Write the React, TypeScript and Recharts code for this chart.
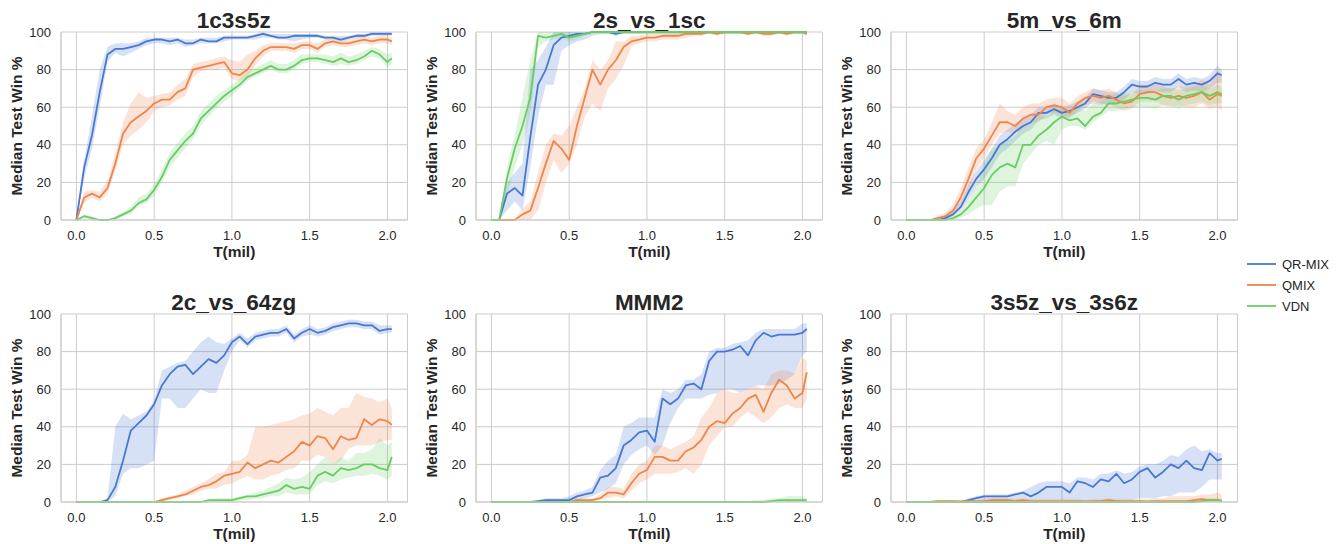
import React from "react";
import { ComposedChart, Line, Area, XAxis, YAxis, CartesianGrid } from "recharts";

const FONT = '"Liberation Sans", Arial, Helvetica, sans-serif';
const INK = "#262626";
const GRID = "#cccccc";
const COLORS = { qr: "#4878d0", qmix: "#ee854a", vdn: "#6acc64" };
const LEGEND = [
  { key: "qr", name: "QR-MIX" },
  { key: "qmix", name: "QMIX" },
  { key: "vdn", name: "VDN" },
];

// training steps (millions)
const T = [0, 0.05, 0.1, 0.15, 0.2, 0.25, 0.3, 0.35, 0.4, 0.45, 0.5, 0.55, 0.6, 0.65, 0.7, 0.75, 0.8, 0.85, 0.9, 0.95, 1, 1.05, 1.1, 1.15, 1.2, 1.25, 1.3, 1.35, 1.4, 1.45, 1.5, 1.55, 1.6, 1.65, 1.7, 1.75, 1.8, 1.85, 1.9, 1.95, 2, 2.028];
const X_TICKS = [0, 0.5, 1, 1.5, 2];
const Y_TICKS = [0, 20, 40, 60, 80, 100];

// 1c3s5z
const A_QR = [0, 28, 45, 68, 88, 91, 91, 92, 93, 95, 96, 96, 95, 96, 94, 94, 96, 95, 95, 97, 97, 97, 97, 98, 99, 98, 97, 97, 98, 98, 98, 98, 97, 97, 96, 97, 98, 98, 99, 99, 99, 99];
const A_QR_LO = [0, 22, 38, 60, 84, 89, 87, 89, 91, 93, 94, 94, 93, 94, 92, 93, 94, 94, 94, 95, 96, 96, 96, 96, 97, 97, 96, 96, 95, 96, 97, 97, 96, 96, 95, 96, 97, 97, 98, 98, 98, 98];
const A_QR_HI = [0, 32, 55, 80, 92, 94, 94, 94, 95, 97, 97, 97, 97, 97, 96, 96, 97, 97, 97, 98, 98, 98, 98, 99, 100, 99, 99, 99, 99, 99, 99, 99, 98, 98, 98, 98, 99, 99, 100, 100, 100, 100];
const A_QM = [0, 12, 14, 12, 17, 30, 46, 52, 55, 58, 62, 64, 64, 68, 70, 80, 81, 82, 83, 84, 78, 77, 80, 86, 90, 92, 92, 92, 91, 93, 93, 91, 94, 95, 94, 94, 95, 96, 95, 96, 96, 95];
const A_QM_LO = [0, 9, 12, 10, 14, 26, 40, 45, 48, 52, 58, 60, 61, 64, 66, 76, 79, 80, 80, 81, 75, 74, 76, 82, 87, 90, 90, 90, 89, 91, 91, 89, 92, 93, 92, 92, 93, 94, 93, 94, 94, 93];
const A_QM_HI = [0, 15, 16, 15, 21, 35, 52, 62, 68, 65, 66, 67, 68, 72, 75, 83, 84, 85, 86, 87, 85, 84, 88, 90, 93, 94, 94, 94, 94, 95, 95, 94, 96, 97, 96, 96, 97, 98, 97, 98, 98, 97];
const A_VD = [0, 2, 1, 0, 0, 1, 3, 5, 9, 11, 16, 23, 32, 37, 42, 46, 54, 58, 62, 66, 69, 72, 76, 78, 80, 82, 80, 80, 82, 85, 86, 86, 85, 84, 86, 84, 85, 87, 90, 88, 84, 86];
const A_VD_LO = [0, 1, 0, 0, 0, 0, 2, 3, 7, 9, 13, 20, 28, 33, 38, 43, 50, 55, 59, 63, 66, 70, 74, 76, 78, 80, 78, 78, 80, 83, 84, 84, 83, 82, 83, 82, 83, 85, 87, 86, 81, 83];
const A_VD_HI = [0, 3, 2, 0, 0, 2, 4, 7, 12, 14, 19, 27, 36, 41, 46, 50, 58, 62, 66, 69, 72, 75, 79, 81, 83, 85, 83, 83, 85, 88, 88, 88, 88, 87, 89, 87, 88, 90, 92, 91, 88, 89];

// 2s_vs_1sc
const B_QR = [0, 0, 14, 17, 13, 44, 72, 80, 93, 97, 98, 99, 99, 100, 100, 100, 99, 100, 100, 100, 100, 100, 100, 100, 100, 100, 100, 100, 100, 100, 100, 100, 100, 100, 100, 100, 100, 100, 100, 100, 100, 100];
const B_QR_LO = [0, 0, 5, 10, 5, 28, 55, 72, 72, 90, 93, 95, 96, 98, 99, 99, 98, 99, 99, 99, 99, 99, 99, 99, 99, 99, 99, 99, 99, 99, 99, 99, 99, 99, 99, 99, 99, 99, 99, 99, 99, 99];
const B_QR_HI = [0, 0, 20, 25, 30, 80, 85, 92, 100, 100, 100, 100, 100, 100, 100, 100, 100, 100, 100, 100, 100, 100, 100, 100, 100, 100, 100, 100, 100, 100, 100, 100, 100, 100, 100, 100, 100, 100, 100, 100, 100, 100];
const B_QM = [0, 0, 0, 0, 3, 5, 17, 30, 42, 38, 32, 50, 65, 80, 72, 80, 85, 92, 95, 96, 97, 97, 98, 98, 98, 99, 99, 99, 100, 99, 100, 100, 100, 99, 100, 99, 99, 100, 99, 100, 100, 99];
const B_QM_LO = [0, 0, 0, 0, 0, 0, 5, 20, 32, 25, 30, 40, 55, 62, 58, 70, 75, 82, 92, 94, 95, 95, 96, 96, 96, 97, 98, 98, 99, 98, 99, 99, 99, 98, 99, 98, 98, 99, 98, 99, 99, 98];
const B_QM_HI = [0, 0, 0, 0, 6, 10, 25, 40, 46, 45, 50, 60, 70, 85, 80, 85, 95, 95, 98, 98, 99, 99, 99, 99, 99, 100, 100, 100, 100, 100, 100, 100, 100, 100, 100, 100, 100, 100, 100, 100, 100, 100];
const B_VD = [0, 0, 22, 38, 50, 65, 98, 97, 98, 99, 97, 98, 99, 100, 100, 100, 100, 100, 100, 100, 100, 100, 100, 100, 100, 100, 100, 100, 100, 100, 100, 100, 100, 100, 100, 100, 100, 100, 100, 100, 100, 100];
const B_VD_LO = [0, 0, 12, 28, 40, 55, 92, 95, 96, 97, 95, 96, 98, 99, 99, 99, 99, 99, 99, 99, 99, 99, 99, 99, 99, 99, 99, 99, 99, 99, 99, 99, 99, 99, 99, 99, 99, 99, 99, 99, 99, 99];
const B_VD_HI = [0, 0, 28, 45, 65, 85, 100, 100, 100, 100, 100, 100, 100, 100, 100, 100, 100, 100, 100, 100, 100, 100, 100, 100, 100, 100, 100, 100, 100, 100, 100, 100, 100, 100, 100, 100, 100, 100, 100, 100, 100, 100];

// 5m_vs_6m
const C_QR = [0, 0, 0, 0, 0, 1, 3, 7, 15, 22, 27, 33, 40, 43, 47, 50, 52, 57, 57, 59, 57, 58, 60, 62, 67, 66, 65, 65, 68, 72, 71, 71, 73, 72, 72, 75, 72, 73, 72, 74, 78, 77];
const C_QR_LO = [0, 0, 0, 0, 0, 0, 2, 5, 11, 18, 22, 28, 35, 38, 42, 46, 48, 53, 54, 56, 54, 55, 57, 59, 63, 62, 61, 61, 64, 68, 67, 67, 69, 68, 68, 71, 68, 69, 68, 70, 73, 73];
const C_QR_HI = [0, 0, 0, 0, 0, 2, 5, 10, 19, 26, 32, 38, 45, 48, 51, 54, 56, 60, 60, 62, 60, 61, 63, 65, 70, 69, 68, 68, 71, 75, 74, 74, 76, 75, 75, 78, 75, 76, 75, 77, 82, 80];
const C_QM = [0, 0, 0, 0, 1, 2, 5, 12, 22, 33, 38, 45, 52, 52, 50, 54, 56, 56, 60, 61, 60, 57, 62, 65, 66, 65, 66, 64, 62, 63, 67, 68, 68, 66, 65, 66, 65, 66, 68, 64, 67, 66];
const C_QM_LO = [0, 0, 0, 0, 0, 1, 3, 8, 16, 27, 33, 40, 46, 47, 46, 49, 52, 52, 56, 57, 56, 54, 58, 61, 62, 61, 62, 60, 58, 59, 63, 63, 63, 61, 60, 61, 60, 60, 62, 59, 60, 58];
const C_QM_HI = [0, 0, 0, 0, 2, 4, 8, 17, 28, 38, 43, 52, 62, 58, 56, 60, 62, 62, 64, 65, 65, 62, 66, 68, 70, 69, 70, 68, 66, 67, 71, 72, 72, 71, 70, 71, 71, 72, 75, 72, 80, 76];
const C_VD = [0, 0, 0, 0, 0, 0, 1, 3, 7, 12, 17, 24, 28, 30, 28, 40, 40, 45, 48, 52, 55, 53, 54, 50, 55, 57, 62, 62, 63, 64, 65, 65, 64, 66, 66, 64, 66, 67, 68, 66, 68, 67];
const C_VD_LO = [0, 0, 0, 0, 0, 0, 0, 1, 3, 6, 8, 8, 15, 18, 18, 30, 35, 40, 42, 40, 48, 50, 50, 48, 52, 55, 58, 58, 59, 60, 60, 60, 59, 61, 61, 59, 61, 62, 63, 61, 62, 62];
const C_VD_HI = [0, 0, 0, 0, 0, 0, 2, 5, 11, 18, 30, 38, 40, 42, 45, 50, 52, 55, 55, 58, 60, 58, 60, 58, 62, 63, 66, 67, 67, 68, 69, 69, 69, 70, 70, 69, 70, 71, 72, 70, 72, 71];

// 2c_vs_64zg
const D_QR = [0, 0, 0, 0, 1, 8, 22, 38, 42, 46, 52, 62, 68, 72, 73, 68, 72, 76, 74, 78, 85, 88, 84, 88, 89, 90, 90, 92, 87, 90, 92, 90, 91, 93, 94, 95, 95, 94, 94, 91, 92, 92];
const D_QR_LO = [0, 0, 0, 0, 0, 3, 15, 18, 18, 20, 22, 55, 55, 50, 50, 55, 60, 58, 58, 70, 80, 86, 82, 86, 87, 88, 88, 90, 85, 88, 89, 88, 89, 91, 92, 93, 93, 92, 92, 89, 90, 90];
const D_QR_HI = [0, 0, 0, 0, 2, 40, 47, 44, 46, 48, 54, 70, 72, 74, 75, 80, 85, 88, 85, 84, 87, 90, 87, 90, 91, 92, 92, 94, 89, 92, 94, 92, 93, 95, 96, 97, 97, 96, 96, 94, 94, 94];
const D_QM = [0, 0, 0, 0, 0, 0, 0, 0, 0, 0, 0, 1, 2, 3, 4, 6, 8, 9, 11, 14, 15, 16, 21, 18, 20, 22, 21, 24, 27, 32, 30, 35, 34, 28, 35, 33, 34, 44, 41, 44, 43, 41];
const D_QM_LO = [0, 0, 0, 0, 0, 0, 0, 0, 0, 0, 0, 0, 1, 2, 3, 4, 6, 7, 7, 9, 10, 12, 14, 12, 12, 14, 15, 17, 18, 22, 22, 25, 24, 20, 22, 28, 30, 30, 30, 32, 33, 33];
const D_QM_HI = [0, 0, 0, 0, 0, 0, 0, 0, 0, 0, 0, 2, 3, 4, 6, 8, 10, 12, 15, 16, 22, 22, 25, 40, 40, 41, 42, 43, 44, 46, 47, 50, 48, 46, 50, 50, 58, 56, 55, 53, 55, 50];
const D_VD = [0, 0, 0, 0, 0, 0, 0, 0, 0, 0, 0, 0, 0, 0, 0, 0, 0, 1, 1, 1, 1, 2, 3, 3, 4, 5, 6, 9, 7, 8, 7, 14, 16, 14, 18, 17, 18, 20, 20, 18, 17, 24];
const D_VD_LO = [0, 0, 0, 0, 0, 0, 0, 0, 0, 0, 0, 0, 0, 0, 0, 0, 0, 0, 0, 0, 0, 1, 1, 2, 2, 3, 3, 5, 4, 4, 4, 9, 11, 10, 12, 13, 14, 14, 15, 14, 12, 14];
const D_VD_HI = [0, 0, 0, 0, 0, 0, 0, 0, 0, 0, 0, 0, 0, 0, 0, 0, 0, 1, 2, 2, 2, 3, 4, 5, 6, 8, 10, 13, 12, 13, 16, 20, 24, 20, 24, 22, 26, 26, 28, 34, 30, 32];

// MMM2
const E_QR = [0, 0, 0, 0, 0, 0, 0.5, 1, 1, 1, 1, 3, 4, 5, 13, 14, 18, 30, 33, 37, 38, 32, 55, 52, 55, 62, 63, 60, 75, 80, 80, 81, 83, 78, 86, 90, 88, 89, 89, 89, 90, 92];
const E_QR_LO = [0, 0, 0, 0, 0, 0, 0, 0, 0, 0, 0, 1, 2, 3, 5, 7, 10, 20, 25, 28, 30, 25, 30, 42, 50, 55, 55, 55, 57, 58, 60, 60, 58, 60, 62, 62, 62, 63, 65, 68, 78, 80];
const E_QR_HI = [0, 0, 0, 0, 0, 0, 1, 2, 2, 2, 3, 5, 6, 8, 17, 22, 25, 40, 42, 45, 45, 45, 60, 58, 60, 65, 65, 68, 80, 82, 82, 84, 85, 86, 90, 92, 92, 92, 92, 92, 95, 95];
const E_QM = [0, 0, 0, 0, 0, 0, 0, 0, 0, 0, 0, 1, 1, 1, 2, 5, 5, 4, 10, 15, 17, 24, 24, 22, 22, 27, 29, 33, 40, 43, 42, 47, 50, 55, 57, 48, 58, 65, 62, 55, 58, 69];
const E_QM_LO = [0, 0, 0, 0, 0, 0, 0, 0, 0, 0, 0, 0, 0, 0, 1, 2, 3, 2, 6, 10, 12, 15, 15, 15, 16, 18, 15, 20, 30, 35, 40, 40, 45, 48, 45, 42, 45, 50, 52, 50, 50, 55];
const E_QM_HI = [0, 0, 0, 0, 0, 0, 0, 0, 0, 0, 0, 2, 2, 2, 4, 8, 8, 7, 15, 20, 22, 30, 30, 28, 30, 32, 35, 45, 50, 58, 60, 58, 58, 60, 62, 60, 68, 70, 70, 68, 77, 75];
const E_VD = [0, 0, 0, 0, 0, 0, 0, 0, 0, 0, 0, 0, 0, 0, 0, 0, 0, 0, 0, 0, 0, 0, 0, 0, 0, 0, 0, 0, 0, 0, 0, 0, 0, 0, 0, 0, 0.5, 1, 1, 1, 1, 1];
const E_VD_LO = [0, 0, 0, 0, 0, 0, 0, 0, 0, 0, 0, 0, 0, 0, 0, 0, 0, 0, 0, 0, 0, 0, 0, 0, 0, 0, 0, 0, 0, 0, 0, 0, 0, 0, 0, 0, 0, 0, 0, 0, 0, 0];
const E_VD_HI = [0, 0, 0, 0, 0, 0, 0, 0, 0, 0, 0, 0, 0, 0, 0, 0, 0, 0, 0, 0, 0, 0, 0, 0, 0, 0, 0, 0, 0, 0, 0, 0, 0, 0.5, 1, 1, 2, 2, 3, 3, 3, 2];

// 3s5z_vs_3s6z
const F_QR = [0, 0, 0, 0, 0, 0, 0, 0, 1, 2, 3, 3, 3, 3, 4, 5, 3, 5, 8, 8, 8, 5, 11, 10, 8, 12, 11, 15, 10, 12, 16, 18, 13, 16, 20, 18, 22, 18, 17, 26, 22, 23];
const F_QR_LO = [0, 0, 0, 0, 0, 0, 0, 0, 0, 1, 1, 1, 1, 1, 1, 1, 1, 1, 1, 1, 1, 1, 1, 0, 1, 0, 0, 0, 1, 1, 2, 2, 2, 3, 3, 5, 5, 5, 8, 12, 12, 12];
const F_QR_HI = [0, 0, 0, 0, 0, 0, 0, 0, 2, 3, 4, 4, 4, 4, 5, 6, 8, 10, 11, 11, 11, 10, 13, 13, 12, 15, 15, 17, 15, 16, 19, 20, 20, 22, 25, 24, 28, 30, 27, 28, 26, 26];
const F_QM = [0, 0, 0, 0, 0.5, 0.5, 0.5, 0.3, 0.5, 0.5, 0.5, 1, 1, 1, 0.5, 1, 0.5, 0.5, 0.5, 0.5, 0.5, 0.5, 0.5, 0.3, 0.5, 0.5, 1, 0.5, 0.5, 0.5, 0.5, 0.3, 0.5, 0.5, 0.5, 0.5, 0.5, 1, 1.5, 1, 1, 0.8];
const F_QM_LO = [0, 0, 0, 0, 0, 0, 0, 0, 0, 0, 0, 0, 0, 0, 0, 0, 0, 0, 0, 0, 0, 0, 0, 0, 0, 0, 0, 0, 0, 0, 0, 0, 0, 0, 0, 0, 0, 0, 0, 0, 0, 0];
const F_QM_HI = [0, 0, 0, 0, 1, 1, 1, 1, 1, 1, 1.5, 2, 2, 2, 1.5, 2, 1.5, 1.5, 1.5, 1.5, 1.5, 1.5, 1.5, 1, 1.5, 1.5, 2, 1.5, 1.5, 1.5, 1.5, 1.5, 2, 2, 3, 3, 3, 3, 4, 4, 5, 4];
const F_VD = [0, 0, 0, 0, 0, 0, 0, 0, 0, 0, 0, 0, 0, 0, 0, 0, 0, 0, 0, 0, 0, 0, 0, 0, 0, 0, 0, 0, 0, 0, 0, 0, 0, 0, 0, 0, 0, 0, 0.5, 1, 1, 0.5];
const F_VD_LO = [0, 0, 0, 0, 0, 0, 0, 0, 0, 0, 0, 0, 0, 0, 0, 0, 0, 0, 0, 0, 0, 0, 0, 0, 0, 0, 0, 0, 0, 0, 0, 0, 0, 0, 0, 0, 0, 0, 0, 0, 0, 0];
const F_VD_HI = [0, 0, 0, 0, 0, 0, 0, 0, 0, 0, 0, 0, 0, 0, 0, 0, 0, 0, 0, 0, 0, 0, 0, 0, 0, 0, 0, 0, 0, 0, 0, 0, 0, 0, 0, 0, 0, 0, 1, 2, 2, 1];

const PANELS = [
  { title: "1c3s5z", qr: [A_QR, A_QR_LO, A_QR_HI], qmix: [A_QM, A_QM_LO, A_QM_HI], vdn: [A_VD, A_VD_LO, A_VD_HI] },
  { title: "2s_vs_1sc", qr: [B_QR, B_QR_LO, B_QR_HI], qmix: [B_QM, B_QM_LO, B_QM_HI], vdn: [B_VD, B_VD_LO, B_VD_HI] },
  { title: "5m_vs_6m", qr: [C_QR, C_QR_LO, C_QR_HI], qmix: [C_QM, C_QM_LO, C_QM_HI], vdn: [C_VD, C_VD_LO, C_VD_HI] },
  { title: "2c_vs_64zg", qr: [D_QR, D_QR_LO, D_QR_HI], qmix: [D_QM, D_QM_LO, D_QM_HI], vdn: [D_VD, D_VD_LO, D_VD_HI] },
  { title: "MMM2", qr: [E_QR, E_QR_LO, E_QR_HI], qmix: [E_QM, E_QM_LO, E_QM_HI], vdn: [E_VD, E_VD_LO, E_VD_HI] },
  { title: "3s5z_vs_3s6z", qr: [F_QR, F_QR_LO, F_QR_HI], qmix: [F_QM, F_QM_LO, F_QM_HI], vdn: [F_VD, F_VD_LO, F_VD_HI] },
];

// layout (page px)
const COL_X = [60.5, 476, 891];
const ROW_Y = [31.5, 314.3];
const PLOT_W = 346.5;
const PLOT_H = 188;
const AXIS_W = 60;
const AXIS_H = 45;
const PAD_T = 10;
const PAD_R = 6;

function toRows(p: any) {
  return T.map((t, i) => {
    const row: any = { t };
    for (const k of ["qr", "qmix", "vdn"]) {
      const [m, lo, hi] = p[k];
      row[k] = m[i];
      row[k + "Band"] = [lo[i], hi[i]];
    }
    return row;
  });
}

const tickStyle = { fill: INK, fontSize: 13, fontFamily: FONT };

const XLabel = (props: any) => {
  const vb = props.viewBox ?? { x: AXIS_W, y: PAD_T + PLOT_H, width: PLOT_W, height: AXIS_H };
  return (
    <text x={vb.x + vb.width / 2} y={vb.y + 37} textAnchor="middle" fill={INK}
      style={{ fontSize: 15.5, fontWeight: "bold", fontFamily: FONT }}>
      T(mil)
    </text>
  );
};

const YLabel = (props: any) => {
  const vb = props.viewBox ?? { x: 0, y: PAD_T, width: AXIS_W, height: PLOT_H };
  const x = vb.x + vb.width - 45;
  const y = vb.y + vb.height / 2;
  return (
    <text x={x} y={y} transform={`rotate(-90 ${x} ${y})`} textAnchor="middle" dominantBaseline="central"
      fill={INK} style={{ fontSize: 15.5, fontWeight: "bold", fontFamily: FONT }}>
      Median Test Win %
    </text>
  );
};

function Panel({ p, left, top }: { p: any; left: number; top: number }) {
  const data = toRows(p);
  return (
    <div style={{ position: "absolute", left: left - AXIS_W, top: top - PAD_T }}>
      <ComposedChart
        width={AXIS_W + PLOT_W + PAD_R}
        height={PAD_T + PLOT_H + AXIS_H}
        data={data}
        margin={{ top: PAD_T, right: PAD_R, bottom: 0, left: 0 }}
      >
        <CartesianGrid stroke={GRID} strokeWidth={1} />
        <XAxis
          dataKey="t"
          type="number"
          domain={[-0.099, 2.129]}
          ticks={X_TICKS}
          interval={0}
          tickFormatter={(v: number) => v.toFixed(1)}
          tick={tickStyle}
          tickLine={false}
          tickSize={0}
          tickMargin={11}
          axisLine={{ stroke: GRID }}
          height={AXIS_H}
          label={{ content: XLabel }}
        />
        <YAxis
          type="number"
          domain={[0, 100]}
          ticks={Y_TICKS}
          interval={0}
          tick={tickStyle}
          tickLine={false}
          tickSize={0}
          tickMargin={10}
          axisLine={{ stroke: GRID }}
          width={AXIS_W}
          label={{ content: YLabel }}
        />
        {LEGEND.map((s) => (
          <Area
            key={s.key + "band"}
            dataKey={s.key + "Band"}
            type="linear"
            stroke="none"
            fill={(COLORS as any)[s.key]}
            fillOpacity={0.22}
            activeDot={false}
            isAnimationActive={false}
          />
        ))}
        {LEGEND.map((s) => (
          <Line
            key={s.key}
            dataKey={s.key}
            type="linear"
            stroke={(COLORS as any)[s.key]}
            strokeWidth={1.8}
            strokeLinejoin="round"
            dot={false}
            activeDot={false}
            isAnimationActive={false}
          />
        ))}
      </ComposedChart>
    </div>
  );
}

export default function App() {
  return (
    <div style={{ position: "absolute", left: 0, top: 0, width: 1339, height: 544, background: "#fff", fontFamily: FONT }}>
      {PANELS.map((p, i) => (
        <Panel key={p.title} p={p} left={COL_X[i % 3]} top={ROW_Y[Math.floor(i / 3)]} />
      ))}
      <svg width={1339} height={544} style={{ position: "absolute", left: 0, top: 0, pointerEvents: "none" }}>
        {PANELS.map((p, i) => (
          <text
            key={p.title}
            x={COL_X[i % 3] + PLOT_W / 2}
            y={ROW_Y[Math.floor(i / 3)] - 4}
            textAnchor="middle"
            fill={INK}
            style={{ fontSize: 22.5, fontWeight: "bold", fontFamily: FONT }}
          >
            {p.title}
          </text>
        ))}
        {LEGEND.map((s, i) => (
          <g key={s.key}>
            <line x1={1247} x2={1276} y1={264 + i * 21} y2={264 + i * 21} stroke={(COLORS as any)[s.key]} strokeWidth={1.8} />
            <text x={1282} y={264 + i * 21 + 4.5} fill={INK} style={{ fontSize: 13, fontFamily: FONT }}>
              {s.name}
            </text>
          </g>
        ))}
      </svg>
    </div>
  );
}
